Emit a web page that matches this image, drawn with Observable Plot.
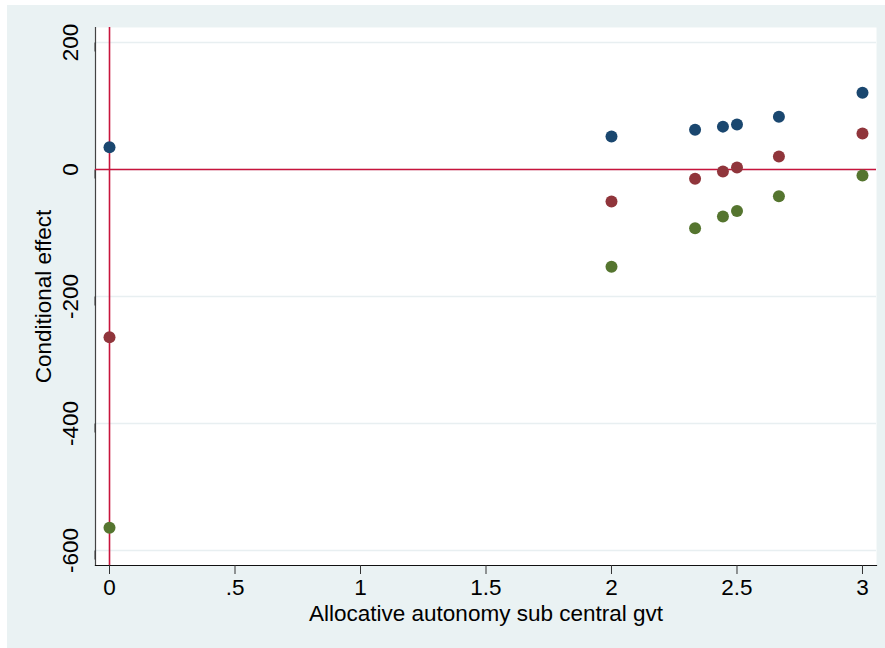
<!DOCTYPE html>
<html><head><meta charset="utf-8">
<script src="https://cdn.jsdelivr.net/npm/d3@7"></script>
<script src="https://cdn.jsdelivr.net/npm/@observablehq/plot@0.6"></script>
<style>
html,body{margin:0;padding:0;background:#fff;}
#wrap{position:absolute;left:7px;top:5px;width:878px;height:643px;background:#eaf2f3;}
#wrap svg{display:block;}
</style></head><body><div id="wrap"></div>
<script>
const xValues = [0, 2, 2.333, 2.444, 2.5, 2.667, 3];
const seriesNames = ["Upper bound", "Conditional effect", "Lower bound"];
const seriesColors = ["#1a476f", "#90353b", "#55752f"];
const upperValues = [35, 52, 62.5, 67.5, 71, 83, 121];
const effectValues = [-264, -50.5, -14.5, -3, 3, 20.5, 56.5];
const lowerValues = [-564, -153, -92.5, -74, -65.5, -42, -9.5];
const xTicks = [0, 0.5, 1, 1.5, 2, 2.5, 3];
const yTicks = [-600, -400, -200, 0, 200];
const xTitle = "Allocative autonomy sub central gvt";
const yTitle = "Conditional effect";

const seriesValues = [upperValues, effectValues, lowerValues];
const data = [];
seriesNames.forEach((s, i) => xValues.forEach((x, j) => data.push({series: s, x, y: seriesValues[i][j]})));

const fmtX = d => d === 0 ? "0" : String(d).replace(/^0\./, ".");

const chart = Plot.plot({
  width: 878, height: 643,
  marginLeft: 88, marginRight: 9, marginTop: 22, marginBottom: 83,
  style: {background: "transparent", fontFamily: "'Liberation Sans', Arial, Helvetica, sans-serif", fontSize: "22.5px", color: "#000"},
  x: {domain: [-0.0558, 3.0558]},
  y: {domain: [-623.6, 223.6]},
  color: {domain: seriesNames, range: seriesColors},
  marks: [
    Plot.frame({fill: "white", stroke: "none"}),
    Plot.gridY(yTicks, {stroke: "#e8eff1", strokeOpacity: 1, strokeWidth: 1.5}),
    Plot.frame({anchor: "left", stroke: "#444", strokeWidth: 1.2}),
    Plot.frame({anchor: "bottom", stroke: "#111", strokeWidth: 1.2}),
    Plot.axisY(yTicks, {tickSize: 9, tickPadding: 16, rotate: -90, textAnchor: "middle", tickFormat: d => String(d), stroke: "#333", label: yTitle, labelAnchor: "center", labelOffset: 60, labelArrow: "none"}),
    Plot.axisX(xTicks, {tickSize: 9, tickPadding: 5, tickFormat: fmtX, stroke: "#333", label: xTitle, labelAnchor: "center", labelOffset: 55, labelArrow: "none"}),
    Plot.ruleY([0], {stroke: "#c8143c", strokeWidth: 1.6}),
    Plot.ruleX([0], {stroke: "#c8143c", strokeWidth: 1.6}),
    Plot.dot(data, {x: "x", y: "y", fill: "series", r: 6, stroke: "none"})
  ]
});
document.getElementById("wrap").appendChild(chart);
</script>
</body></html>
